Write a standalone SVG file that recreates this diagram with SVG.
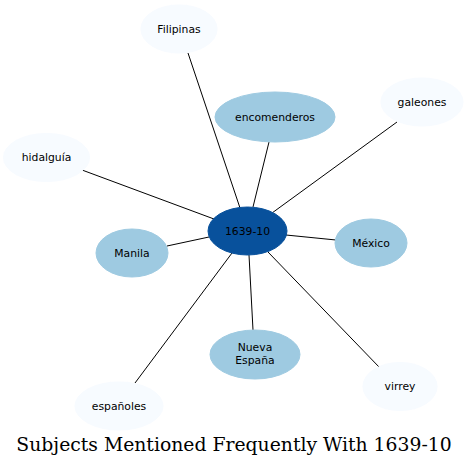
<svg xmlns="http://www.w3.org/2000/svg" width="470" height="467" viewBox="0 0 470 467">
<style>
.lt{fill:#f7fbff;stroke:#f7fbff}
.md{fill:#9ecae1;stroke:#9ecae1}
.dk{fill:#08519c;stroke:#08519c}
text{font-family:"DejaVu Sans",sans-serif;font-size:10.8px;text-anchor:middle;fill:#000}
.e line{stroke:#000;stroke-width:1}
.t{font-family:"DejaVu Serif",serif;font-size:18.8px}
</style>
<rect width="470" height="467" fill="#fff"/>
<g class="e" id="edges">
<line x1="240" y1="208" x2="188" y2="53"/>
<line x1="253" y1="207" x2="269" y2="142"/>
<line x1="272" y1="213" x2="397" y2="122"/>
<line x1="214" y1="219" x2="82" y2="170"/>
<line x1="209" y1="237" x2="167" y2="246"/>
<line x1="286" y1="235" x2="336" y2="240"/>
<line x1="249" y1="255" x2="253" y2="330"/>
<line x1="268" y1="252" x2="380" y2="368"/>
<line x1="232" y1="253" x2="135" y2="383"/>
</g>
<g id="n_filipinas"><ellipse class="lt" cx="179" cy="29" rx="38" ry="24"/><text x="179" y="33">Filipinas</text></g>
<g id="n_encomenderos"><ellipse class="md" cx="275" cy="117" rx="60" ry="25"/><text x="275" y="121">encomenderos</text></g>
<g id="n_galeones"><ellipse class="lt" cx="422" cy="102" rx="41" ry="24"/><text x="422" y="106">galeones</text></g>
<g id="n_hidalguia"><ellipse class="lt" cx="46.5" cy="157.5" rx="43" ry="24"/><text x="46.5" y="161">hidalguía</text></g>
<g id="n_center"><ellipse class="dk" cx="247.5" cy="231" rx="39.5" ry="24"/><text x="247.5" y="235">1639-10</text></g>
<g id="n_manila"><ellipse class="md" cx="132" cy="253" rx="36" ry="24"/><text x="132" y="257">Manila</text></g>
<g id="n_mexico"><ellipse class="md" cx="371" cy="243" rx="36" ry="24"/><text x="371" y="247">México</text></g>
<g id="n_nueva"><ellipse class="md" cx="255" cy="354.5" rx="45" ry="24.5"/><text x="255" y="351">Nueva</text><text x="255" y="364">España</text></g>
<g id="n_virrey"><ellipse class="lt" cx="400" cy="386.5" rx="37" ry="24"/><text x="400" y="390">virrey</text></g>
<g id="n_espanoles"><ellipse class="lt" cx="119" cy="406" rx="44" ry="24"/><text x="119" y="410">españoles</text></g>
<text class="t" x="234" y="451">Subjects Mentioned Frequently With 1639-10</text>
</svg>
